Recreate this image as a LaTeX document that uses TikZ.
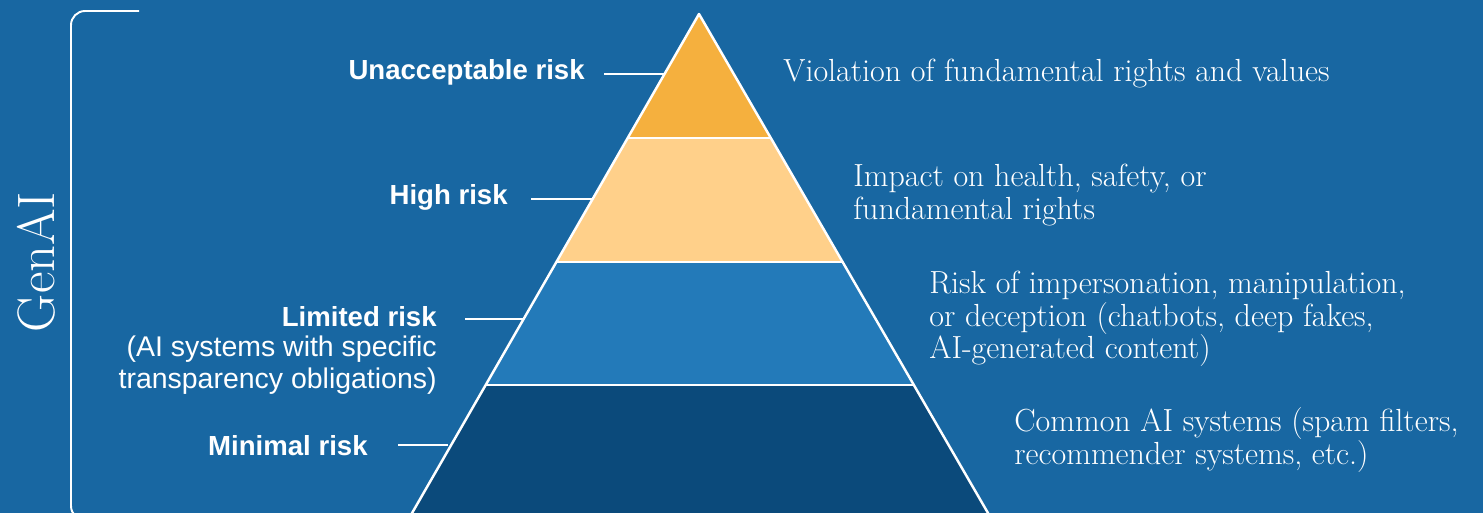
\documentclass[tikz,border=0pt]{standalone}
\usepackage{fontspec}
\newfontfamily\labfont{Liberation Sans}
\definecolor{bgblue}{RGB}{24,103,162}
\definecolor{tierA}{RGB}{245,176,62}
\definecolor{tierB}{RGB}{255,208,138}
\definecolor{tierC}{RGB}{35,122,185}
\definecolor{tierD}{RGB}{11,74,123}
\tikzset{
  tierline/.style={draw=white, line width=1.4pt, line join=round},
  conn/.style={draw=white, line width=1.2pt},
  lab/.style={text=white, font=\labfont\fontsize{15.7}{18.2}\selectfont\bfseries, inner sep=0pt, align=right},
  sub/.style={text=white, font=\labfont\fontsize{16.2}{18.2}\selectfont, inner sep=0pt, align=right},
  desc/.style={text=white, font=\fontsize{18.2}{18.4}\selectfont, inner sep=0pt, align=left, anchor=west},
}
\begin{document}
\begin{tikzpicture}[x=0.02cm, y=-0.02cm]
\useasboundingbox (0,0) rectangle (1483,513);
\fill[bgblue] (0,0) rectangle (1483,513);
\clip (0,0) rectangle (1483,513);
% pyramid corner coordinates
\coordinate (apex) at (699,14);
\coordinate (l1) at (627.7,138); \coordinate (r1) at (770.8,138);
\coordinate (l2) at (556.4,262); \coordinate (r2) at (842.6,262);
\coordinate (l3) at (485.7,385); \coordinate (r3) at (913.8,385);
\coordinate (l4) at (402.3,530); \coordinate (r4) at (997.8,530);
\fill[tierA] (apex) -- (l1) -- (r1) -- cycle;
\fill[tierB] (l1) -- (l2) -- (r2) -- (r1) -- cycle;
\fill[tierC] (l2) -- (l3) -- (r3) -- (r2) -- cycle;
\fill[tierD] (l3) -- (l4) -- (r4) -- (r3) -- cycle;
\draw[tierline] (l4) -- (apex) -- (r4);
\draw[tierline] (l1) -- (r1);
\draw[tierline] (l2) -- (r2);
\draw[tierline] (l3) -- (r3);
% edge points for connectors
\coordinate (eu) at (663.5,74);
\coordinate (eh) at (592.6,199);
\coordinate (el) at (524.2,319);
\coordinate (em) at (448,445);
% bracket
\draw[white, line width=1.1pt, rounded corners=8pt] (139,11) -- (71,11) -- (71,520) -- (139,520);
\node[text=white, rotate=90, inner sep=0pt, font=\fontsize{30}{30}\selectfont] (genai) at (36,262) {GenAI};
% left labels
\node[lab, anchor=east] (lu) at (585,72) {Unacceptable risk};
\node[lab, anchor=east] (lh) at (508,197) {High risk};
\node[lab, anchor=east] (ll) at (437,317) {Limited risk};
\node[sub, anchor=north east] (ls) at (437,336) {(AI systems with specific\\transparency obligations)};
\node[lab, anchor=east] (lm) at (368,446) {Minimal risk};
\draw[conn] (lu.east) ++(19,2) -- (eu);
\draw[conn] (lh.east) ++(23,2) -- (eh);
\draw[conn] (ll.east) ++(28,2) -- (el);
\draw[conn] (lm.east) ++(30,-1) -- (em);
% right descriptions
\node[desc] (du) at (783,74) {Violation of fundamental rights and values};
\node[desc] (dh) at (853,195) {Impact on health, safety, or\\fundamental rights};
\node[desc] (dl) at (929,319) {Risk of impersonation, manipulation,\\or deception (chatbots, deep fakes,\\AI-generated content)};
\node[desc] (dm) at (1014,440) {Common AI systems (spam filters,\\recommender systems, etc.)};
\end{tikzpicture}
\end{document}
